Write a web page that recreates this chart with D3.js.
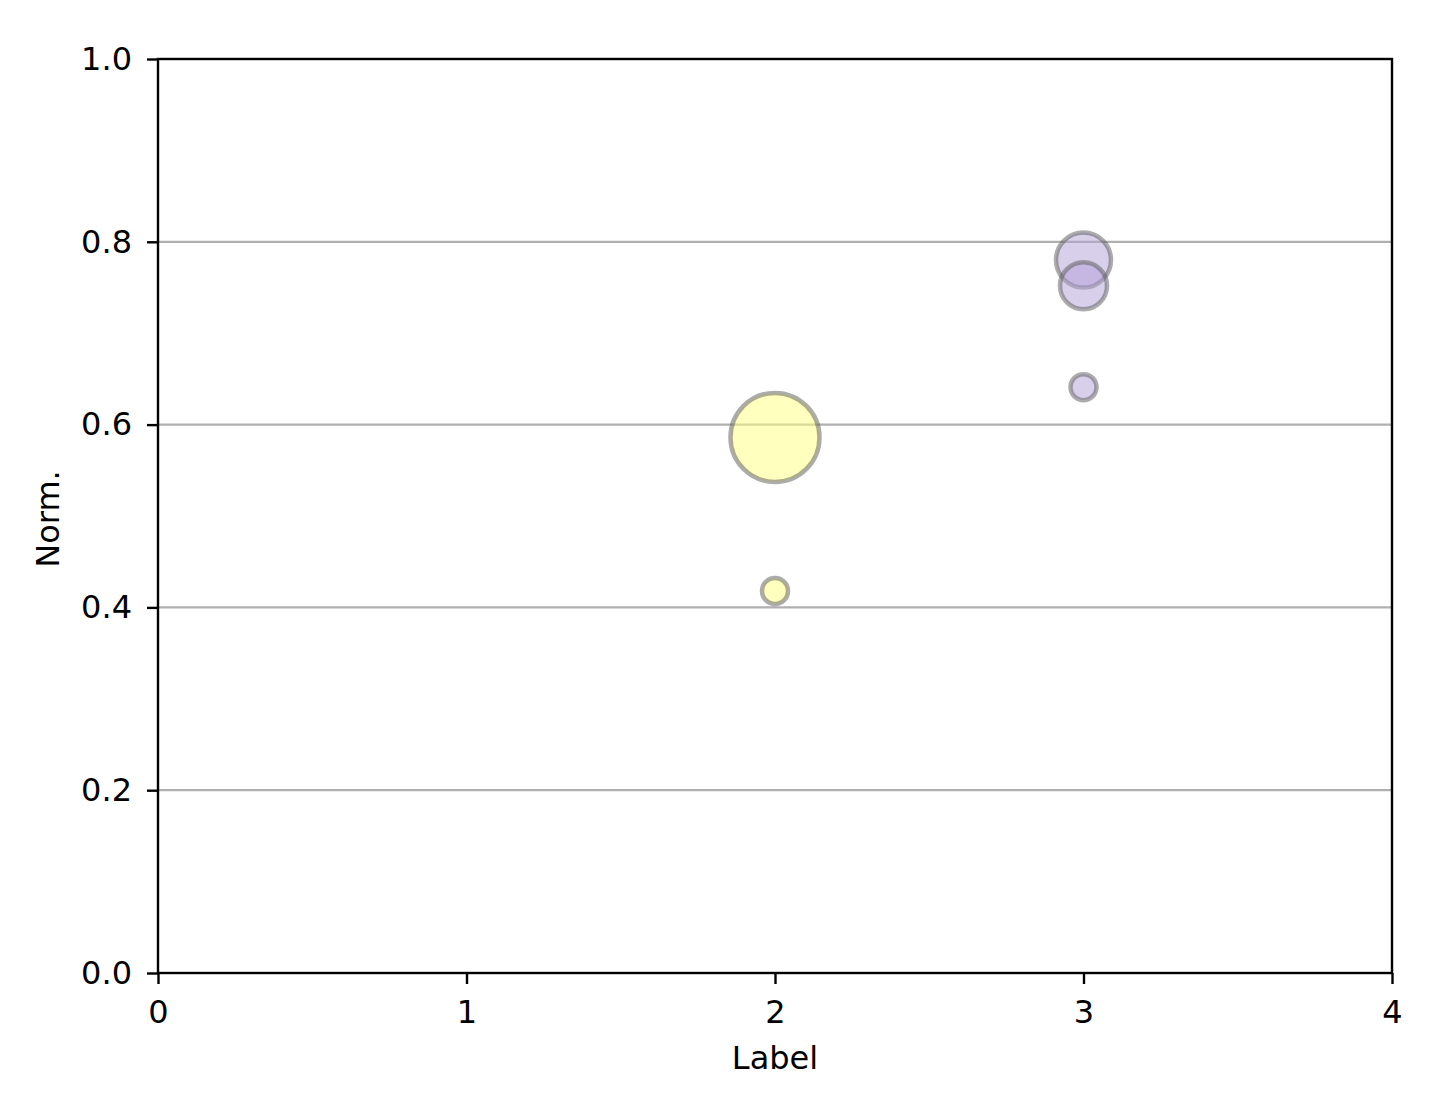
<!DOCTYPE html>
<html>
<head>
<meta charset="utf-8">
<script src="https://cdn.jsdelivr.net/npm/d3@7"></script>
<style>
  body { margin: 0; background: #fff; }
  text { font-family: "DejaVu Sans", sans-serif; fill: #000; }
</style>
</head>
<body>
<div id="plot"></div>
<script>
// bubbles: x label, normalised value, marker radius (px), group
var labels = [2, 2, 3, 3, 3];
var norms = [0.586, 0.418, 0.780, 0.752, 0.641];
var sizes = [44.5, 13, 27.5, 23.5, 13];
var groups = ["a", "a", "b", "b", "b"];
var xTicks = [0, 1, 2, 3, 4];
var yTicks = [0.0, 0.2, 0.4, 0.6, 0.8, 1.0];
var groupColors = { a: "#ffff7e", b: "#b19fd7" };

var w = 1434, h = 1097;
var padL = 158, padR = 1392, padT = 59, padB = 973;
var fs = "32px";

var svg = d3.select("#plot")
    .append("svg")
    .attr("width", w)
    .attr("height", h);

var xScale = d3.scaleLinear().domain([0, 4]).range([padL, padR]);
var yScale = d3.scaleLinear().domain([0, 1]).range([padB, padT]);

// horizontal grid
svg.append("g")
    .selectAll("line")
    .data(yTicks)
    .enter()
    .append("line")
    .attr("x1", padL).attr("x2", padR)
    .attr("y1", function (d) { return yScale(d); })
    .attr("y2", function (d) { return yScale(d); })
    .attr("stroke", "#b0b0b0")
    .attr("stroke-width", 2.2);

var data = labels.map(function (l, i) {
    return { x: l, y: norms[i], r: sizes[i], g: groups[i] };
});

svg.append("g")
    .selectAll("circle")
    .data(data)
    .enter()
    .append("circle")
    .attr("cx", function (d) { return xScale(d.x); })
    .attr("cy", function (d) { return yScale(d.y); })
    .attr("r", function (d) { return d.r; })
    .attr("fill", function (d) { return groupColors[d.g]; })
    .attr("fill-opacity", 0.5)
    .attr("stroke", "#5a5a5a")
    .attr("stroke-opacity", 0.5)
    .attr("stroke-width", 4.5);

var xAxis = d3.axisBottom(xScale)
    .tickValues(xTicks)
    .tickFormat(d3.format("d"))
    .tickSize(11)
    .tickPadding(16);
var yAxis = d3.axisLeft(yScale)
    .tickValues(yTicks)
    .tickFormat(d3.format(".1f"))
    .tickSize(11)
    .tickPadding(15);

var gx = svg.append("g")
    .attr("transform", "translate(0," + padB + ")")
    .call(xAxis);
var gy = svg.append("g")
    .attr("transform", "translate(" + padL + ",0)")
    .call(yAxis);

[gx, gy].forEach(function (g) {
    g.select(".domain").remove();
    g.selectAll(".tick line").attr("stroke", "#000").attr("stroke-width", 2.4);
    g.selectAll(".tick text").style("font-size", fs).attr("fill", "#000");
});

// frame
svg.append("rect")
    .attr("x", padL).attr("y", padT)
    .attr("width", padR - padL).attr("height", padB - padT)
    .attr("fill", "none")
    .attr("stroke", "#000")
    .attr("stroke-width", 2.4);

svg.append("text")
    .attr("x", (padL + padR) / 2)
    .attr("y", 1069)
    .attr("text-anchor", "middle")
    .style("font-size", fs)
    .text("Label");

svg.append("text")
    .attr("transform", "translate(59," + ((padT + padB) / 2 + 3) + ") rotate(-90)")
    .attr("text-anchor", "middle")
    .style("font-size", fs)
    .text("Norm.");
</script>
</body>
</html>
